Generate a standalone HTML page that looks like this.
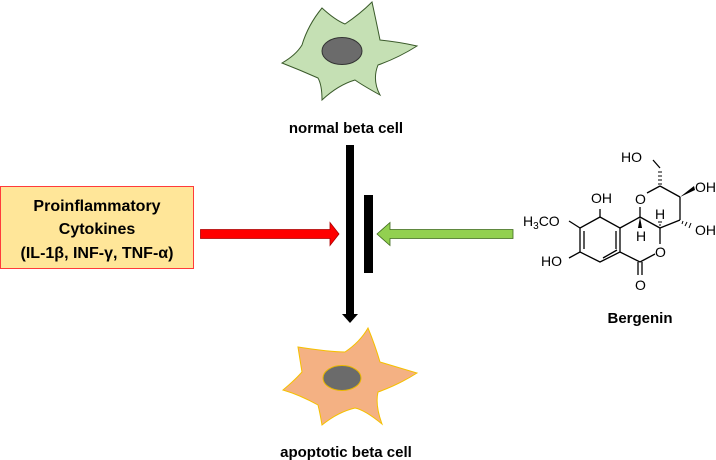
<!DOCTYPE html>
<html><head><meta charset="utf-8"><style>
body{margin:0;background:#fff;width:716px;height:460px;overflow:hidden}
svg{display:block}
text{font-family:"Liberation Sans",sans-serif}
.b{font-weight:bold;font-size:15px;fill:#000}
.bb{font-weight:bold;font-size:16px;fill:#000}
.c{font-size:14px;fill:#000}
</style></head><body>
<svg width="716" height="460" viewBox="0 0 716 460">
<!-- normal cell -->
<path d="M322,8 Q335,20 345,24 Q360,14 372,2 Q377,25 380,40 Q400,42 417,46 Q398,58 378,65 Q372,80 380,95 Q362,85 355,80 Q338,85 322,100 Q322,85 318,78 Q300,70 282,63 Q296,55 302,45 Q308,25 322,8 Z" fill="#c5e0b4" stroke="#3a5a2a" stroke-width="1"/>
<ellipse cx="342" cy="51" rx="20" ry="13.5" fill="#6b6b6b" stroke="#333" stroke-width="1"/>
<text class="b" x="346" y="133" text-anchor="middle">normal beta cell</text>
<!-- apoptotic cell -->
<path d="M298,347 Q330,352 345,352 Q360,342 368,328 Q375,345 380,362 Q400,368 417,373 Q398,385 378,392 Q375,405 382,424 Q365,410 355,408 Q338,412 322,425 Q320,413 318,405 Q300,395 283,390 Q295,380 302,372 Q300,360 298,347 Z" fill="#f4b183" stroke="#f5c000" stroke-width="1"/>
<ellipse cx="342" cy="378" rx="19" ry="12.5" fill="#6b6b6b" stroke="#e8b800" stroke-width="1"/>
<text class="b" x="346" y="457" text-anchor="middle">apoptotic beta cell</text>
<!-- black arrow -->
<rect x="346" y="145" width="8" height="172" fill="#000"/>
<polygon points="342,314 358,314 350,323" fill="#000"/>
<rect x="364" y="195" width="9" height="78" fill="#000"/>
<!-- box -->
<rect x="0.5" y="186.5" width="193" height="82" fill="#ffe699" stroke="#ff3b3b" stroke-width="1"/>
<text class="bb" x="97" y="211" text-anchor="middle">Proinflammatory</text>
<text class="bb" x="97" y="234" text-anchor="middle">Cytokines</text>
<text class="bb" x="97" y="258" text-anchor="middle">(IL-1β, INF-γ, TNF-α)</text>
<!-- red arrow -->
<polygon points="200.5,229.5 330,229.5 330,222.5 339,234 330,245.5 330,238.5 200.5,238.5" fill="#ff0000" stroke="#a00" stroke-width="0.8"/>
<!-- green arrow -->
<polygon points="513,229.5 390,229.5 390,222.5 377,234 390,245.5 390,238.5 513,238.5" fill="#92d050" stroke="#3f6a1e" stroke-width="0.8"/>
<!-- Bergenin -->
<g stroke="#000" stroke-width="1.3" fill="none">
<polyline points="600,217 580,228 580,252 600,262 620,252 620,228 600,217"/>
<line x1="584" y1="231" x2="584" y2="249"/>
<line x1="603" y1="258" x2="617" y2="250"/>
<line x1="616" y1="231" x2="616" y2="249"/>
<line x1="600" y1="217" x2="600" y2="209"/>
<line x1="580" y1="228" x2="569" y2="221"/>
<line x1="580" y1="252" x2="569" y2="258"/>
<line x1="620" y1="252" x2="640" y2="262"/>
<line x1="638" y1="262" x2="638" y2="275"/><line x1="642" y1="262" x2="642" y2="275"/>
<line x1="640" y1="262" x2="655" y2="254"/>
<line x1="620" y1="228" x2="640" y2="217"/>
<line x1="640" y1="217" x2="640" y2="207"/>
<line x1="647" y1="193" x2="660" y2="186"/>
<line x1="660" y1="186" x2="680" y2="197"/>
<line x1="680" y1="197" x2="680" y2="220"/>
<line x1="680" y1="220" x2="660" y2="228"/>
<line x1="660" y1="228" x2="640" y2="217"/>
<line x1="660" y1="228" x2="660" y2="244"/>
<line x1="660" y1="168" x2="653" y2="160"/>
</g>
<g stroke="#000" stroke-width="1">
<line x1="658" y1="184" x2="662" y2="184"/><line x1="658" y1="180" x2="662" y2="180"/><line x1="658" y1="176" x2="662" y2="176"/><line x1="658" y1="172" x2="662" y2="172"/>
<line x1="683" y1="221" x2="682" y2="224"/><line x1="687" y1="222" x2="685" y2="226"/><line x1="691" y1="223" x2="689" y2="228"/>
<line x1="659" y1="225" x2="661" y2="225"/><line x1="658" y1="222" x2="662" y2="222"/>
</g>
<polygon points="680,197 694,186 695,190" fill="#000"/>
<polygon points="640,217 638,228 642,228" fill="#000"/>
<text class="c" x="591" y="203">OH</text>
<text class="c" x="523" y="226">H<tspan font-size="10" dy="3">3</tspan><tspan dy="-3">CO</tspan></text>
<text class="c" x="541" y="266">HO</text>
<text class="c" x="635" y="290">O</text>
<text class="c" x="655" y="257">O</text>
<text class="c" x="635" y="204">O</text>
<text class="c" x="621" y="162">HO</text>
<text class="c" x="695" y="192">OH</text>
<text class="c" x="695" y="235">OH</text>
<text class="c" x="655" y="219" font-size="12">H</text>
<text class="c" x="636" y="241" font-size="12">H</text>
<text class="b" x="640" y="323" text-anchor="middle">Bergenin</text>
</svg>
</body></html>
